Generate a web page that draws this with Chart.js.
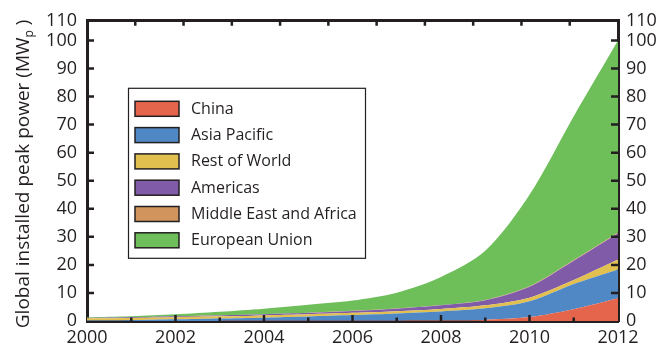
<!DOCTYPE html>
<html>
<head>
<meta charset="utf-8">
<script src="https://cdn.jsdelivr.net/npm/chart.js@4/dist/chart.umd.min.js"></script>
<style>
  html, body { margin: 0; padding: 0; background: #ffffff; }
  canvas { display: block; }
</style>
</head>
<body>
<canvas id="c" width="656" height="354"></canvas>
<script>
// Cumulative installed PV capacity by region (stacked, bottom to top)
const years = ['2000','2001','2002','2003','2004','2005','2006','2007','2008','2009','2010','2011','2012'];
const china            = [0.02, 0.02, 0.03, 0.04, 0.05, 0.06, 0.08, 0.10, 0.15, 0.40, 1.40, 4.20, 8.10];
const asiaPacific      = [0.13, 0.28, 0.57, 0.86, 1.15, 1.54, 2.02, 2.60, 3.25, 4.10, 5.60, 9.00, 10.30];
const restOfWorld      = [0.80, 0.80, 0.75, 0.75, 0.80, 0.80, 0.80, 0.80, 0.90, 1.10, 1.30, 1.40, 3.50];
const americas         = [0.10, 0.20, 0.30, 0.35, 0.40, 0.50, 0.70, 0.90, 1.30, 1.80, 3.90, 6.90, 9.40];
const middleEastAfrica = [0.02, 0.02, 0.02, 0.02, 0.03, 0.03, 0.04, 0.05, 0.08, 0.10, 0.15, 0.20, 0.25];
const europeanUnion    = [0.23, 0.38, 0.73, 1.28, 1.97, 2.87, 3.66, 5.65, 10.02, 17.50, 32.65, 51.30, 68.45];

// Value axis ticks; the top frame edge carries the "110" label
const yTickValues = [0, 10, 20, 30, 40, 50, 60, 70, 80, 90, 100];
const yTopValue = 107;
const yTopLabel = '110';

const seriesNames = ['China', 'Asia Pacific', 'Rest of World', 'Americas', 'Middle East and Africa', 'European Union'];
const seriesColors = ['#E4654C', '#5088C6', '#E2C050', '#805CA8', '#D0945C', '#6EBE5A'];
const seriesValues = [china, asiaPacific, restOfWorld, americas, middleEastAfrica, europeanUnion];

const INK = '#231F20';
const FONT = '"Open Sans", "DejaVu Sans", sans-serif';

// Inward-pointing tick marks on all four sides of the frame
const frameTicks = {
  id: 'frameTicks',
  afterDraw(chart) {
    const { ctx, chartArea: a, scales } = chart;
    ctx.save();
    ctx.strokeStyle = INK;
    ctx.lineWidth = 2.5;
    ctx.beginPath();
    const xs = scales.x;
    xs.ticks.forEach((t, i) => {
      if (i === 0 || i === xs.ticks.length - 1) return;
      const px = xs.getPixelForTick(i);
      const len = i % 2 === 0 ? 6 : 3.5;
      ctx.moveTo(px, a.bottom);
      ctx.lineTo(px, a.bottom - len);
    });
    const xt = scales.xTop;
    xt.ticks.forEach(t => {
      if (t.value <= xt.min || t.value >= xt.max) return;
      const px = xt.getPixelForValue(t.value);
      ctx.moveTo(px, a.top);
      ctx.lineTo(px, a.top + 5);
    });
    const ys = scales.y;
    ys.ticks.forEach(t => {
      if (t.value <= 0 || t.value > 100) return;
      const py = ys.getPixelForValue(t.value);
      ctx.moveTo(a.left, py);
      ctx.lineTo(a.left + 7, py);
      ctx.moveTo(a.right, py);
      ctx.lineTo(a.right - 7, py);
    });
    ctx.stroke();
    ctx.restore();
  }
};

// Rotated y-axis title with a subscript "p"
const yTitle = {
  id: 'yTitle',
  afterDraw(chart) {
    const { ctx, chartArea: a } = chart;
    const main = 'Global installed peak power (MW';
    const sub = 'p';
    const tail = ' )';
    ctx.save();
    ctx.fillStyle = INK;
    ctx.textBaseline = 'alphabetic';
    const bigFont = '19px ' + FONT;
    const smallFont = '12px ' + FONT;
    ctx.font = bigFont;
    const w1 = ctx.measureText(main).width;
    const w3 = ctx.measureText(tail).width;
    ctx.font = smallFont;
    const w2 = ctx.measureText(sub).width;
    const total = w1 + w2 + w3;
    ctx.translate(29, (a.top + a.bottom) / 2 + 3);
    ctx.rotate(-Math.PI / 2);
    let x = -total / 2;
    ctx.font = bigFont;
    ctx.fillText(main, x, 0);
    x += w1;
    ctx.font = smallFont;
    ctx.fillText(sub, x, 4);
    x += w2;
    ctx.font = bigFont;
    ctx.fillText(tail, x, 0);
    ctx.restore();
  }
};

// Boxed legend inside the plot area
const boxLegend = {
  id: 'boxLegend',
  afterDraw(chart) {
    const { ctx, chartArea: a } = chart;
    const items = Chart.defaults.plugins.legend.labels.generateLabels(chart);
    const bx = a.left + 41, by = a.top + 67, bw = 237, bh = 170;
    ctx.save();
    ctx.fillStyle = '#ffffff';
    ctx.fillRect(bx, by, bw, bh);
    ctx.strokeStyle = INK;
    ctx.lineWidth = 1.2;
    ctx.strokeRect(bx + 0.5, by + 0.5, bw, bh);
    ctx.font = '16px ' + FONT;
    ctx.textBaseline = 'middle';
    items.forEach((it, i) => {
      const sy = by + 13.5 + i * 26.3;
      ctx.fillStyle = it.fillStyle;
      ctx.fillRect(bx + 7, sy, 44, 15);
      ctx.lineWidth = 1.5;
      ctx.strokeStyle = INK;
      ctx.strokeRect(bx + 7, sy, 44, 15);
      ctx.fillStyle = INK;
      ctx.fillText(it.text, bx + 63, sy + 8);
    });
    ctx.restore();
  }
};

const datasets = seriesValues.map((vals, i) => ({
  label: seriesNames[i],
  data: vals,
  backgroundColor: seriesColors[i],
  borderColor: seriesColors[i],
  borderWidth: 0,
  pointRadius: 0,
  fill: i === 0 ? 'origin' : '-1',
  tension: 0.3
}));

const yTickLabel = v => (v > 100 ? yTopLabel : String(v));
const setYTicks = s => {
  s.ticks = yTickValues.concat([yTopValue]).map(v => ({ value: v }));
};

new Chart(document.getElementById('c'), {
  type: 'line',
  data: { labels: years, datasets },
  options: {
    responsive: false,
    animation: false,
    devicePixelRatio: 1,
    layout: { padding: 0 },
    plugins: { legend: { display: false }, tooltip: { enabled: false } },
    elements: { line: { borderWidth: 0 } },
    scales: {
      x: {
        type: 'category',
        position: 'bottom',
        offset: false,
        z: 1,
        grid: { display: true, drawOnChartArea: false, drawTicks: false },
        border: { display: true, width: 3, color: INK },
        ticks: {
          autoSkip: false, maxRotation: 0, padding: 6,
          color: INK, font: { family: FONT, size: 18 },
          callback(value, index) { return index % 2 === 0 ? this.getLabelForValue(value) : ''; }
        },
        afterFit(s) { s.height = 33; }
      },
      xTop: {
        type: 'linear',
        position: 'top',
        min: 0, max: 11,
        z: 1,
        grid: { display: true, drawOnChartArea: false, drawTicks: false },
        border: { display: true, width: 3, color: INK },
        ticks: { display: false, stepSize: 1 },
        afterFit(s) { s.height = 20; }
      },
      y: {
        type: 'linear',
        position: 'left',
        stacked: true,
        min: 0, max: yTopValue,
        z: 1,
        grid: { display: true, drawOnChartArea: false, drawTicks: false },
        border: { display: true, width: 3, color: INK },
        ticks: {
          autoSkip: false, padding: 10,
          color: INK, font: { family: FONT, size: 18 },
          callback: yTickLabel
        },
        afterBuildTicks: setYTicks,
        afterFit(s) { s.width = 87; }
      },
      y2: {
        type: 'linear',
        position: 'right',
        min: 0, max: yTopValue,
        z: 1,
        grid: { display: true, drawOnChartArea: false, drawTicks: false },
        border: { display: true, width: 3, color: INK },
        ticks: {
          autoSkip: false, padding: 8,
          color: INK, font: { family: FONT, size: 18 },
          callback: yTickLabel
        },
        afterBuildTicks: setYTicks,
        afterFit(s) { s.width = 38; }
      }
    }
  },
  plugins: [frameTicks, yTitle, boxLegend]
});
</script>
</body>
</html>
